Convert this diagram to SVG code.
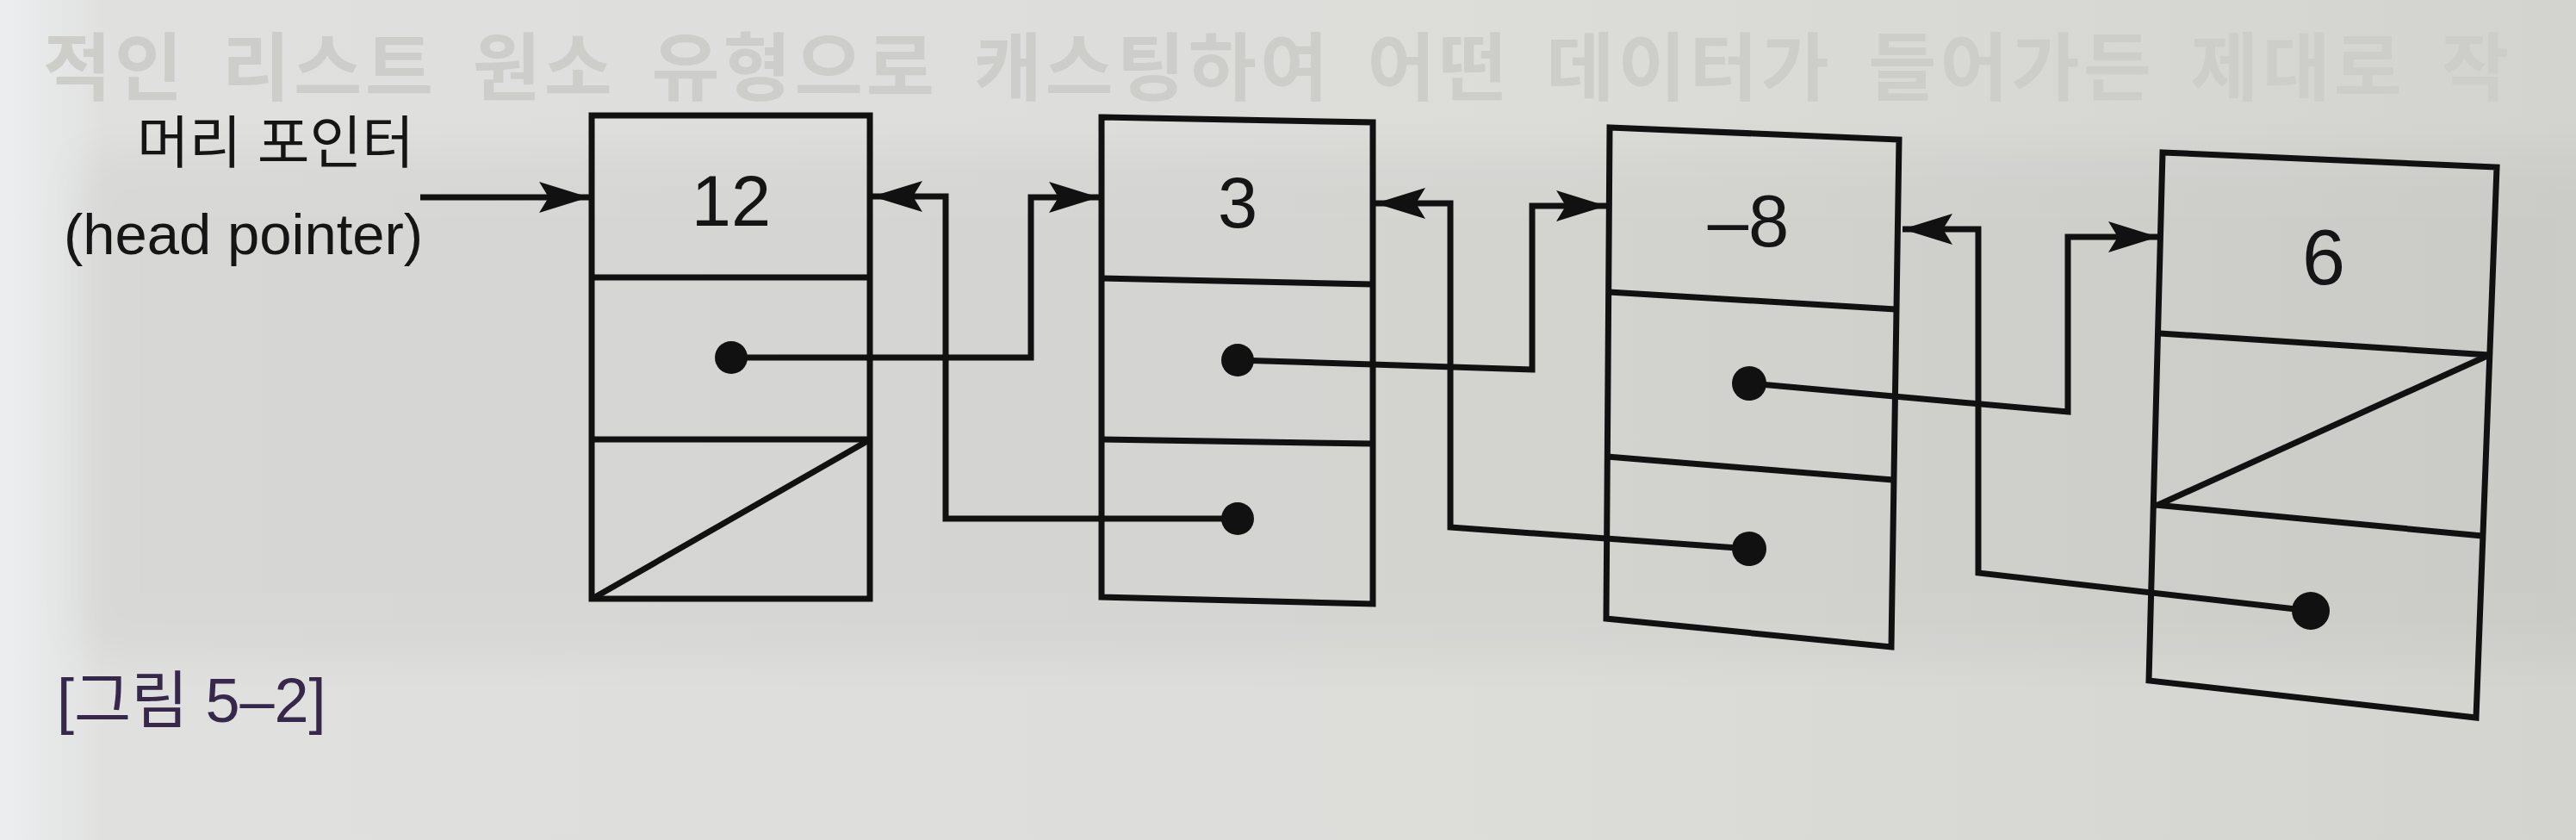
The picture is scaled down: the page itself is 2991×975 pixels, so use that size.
<svg xmlns="http://www.w3.org/2000/svg" width="2991" height="975" viewBox="0 0 2991 975">
  <defs>
    <linearGradient id="paper" x1="0" y1="0" x2="1" y2="0">
      <stop offset="0" stop-color="#eceef0"/>
      <stop offset="0.04" stop-color="#e0e1df"/>
      <stop offset="0.6" stop-color="#dcdcd9"/>
      <stop offset="1" stop-color="#d3d3d0"/>
    </linearGradient>
    <filter id="soft" x="-10%" y="-30%" width="120%" height="160%">
      <feGaussianBlur stdDeviation="30"/>
    </filter>
    <marker id="arr" viewBox="0 0 60 40" markerWidth="60" markerHeight="40" refX="58" refY="20" orient="auto" markerUnits="userSpaceOnUse">
      <path d="M58,20 L0,2 L11,20 L0,38 Z" fill="#111"/>
    </marker>
    <style>
      .box { fill: none; stroke: #111; stroke-width: 7; stroke-linejoin: miter; }
      .div { fill: none; stroke: #111; stroke-width: 7; }
      .conn { fill: none; stroke: #111; stroke-width: 7; stroke-linejoin: miter; marker-end: url(#arr); }
      .dot { fill: #111; }
      .val { font-family: "Liberation Sans", Arial, sans-serif; fill: #151515; text-anchor: middle; }
      .lbl { font-family: "Liberation Sans", "Noto Sans CJK KR", sans-serif; fill: #151515; }
      .faint { font-family: "Noto Sans CJK KR", sans-serif; font-weight: bold; fill: #cdcdca; }
    </style>
  </defs>

  <g id="background">
    <rect x="0" y="0" width="2991" height="975" fill="url(#paper)"/>
    <rect x="90" y="180" width="2950" height="580" fill="#000" opacity="0.035" filter="url(#soft)"/>
    <text class="faint" x="50" y="110" font-size="86" letter-spacing="4" word-spacing="18">적인 리스트 원소 유형으로 캐스팅하여 어떤 데이터가 들어가든 제대로 작</text>
  </g>

  <g id="labels">
    <text class="lbl" x="320" y="189" font-size="66" text-anchor="middle" font-family="'Noto Sans CJK KR', sans-serif">머리 포인터</text>
    <text class="lbl" x="74" y="295" font-size="67">(head pointer)</text>
    <text class="lbl" x="66" y="838" font-size="72" style="fill:#35284a">[그림 5–2]</text>
  </g>

  <g id="node1">
    <path class="box" d="M687,134 L1010,134 L1010,695 L687,695 Z"/>
    <path class="div" d="M687,322 L1010,322 M687,510 L1010,510"/>
    <path class="div" d="M691,693 L1007,512"/>
    <text class="val" x="849" y="262" font-size="83">12</text>
    <circle class="dot" cx="849" cy="415" r="19"/>
  </g>

  <g id="node2">
    <path class="box" d="M1279,136 L1594,142 L1594,701 L1279,693 Z"/>
    <path class="div" d="M1279,323 L1594,330 M1279,510 L1594,515"/>
    <text class="val" x="1437" y="264" font-size="83">3</text>
    <circle class="dot" cx="1437" cy="418" r="19"/>
    <circle class="dot" cx="1437" cy="602" r="19"/>
  </g>

  <g id="node3">
    <path class="box" d="M1869,148 L2205,162 L2196,751 L1865,718 Z"/>
    <path class="div" d="M1868,339 L2201,359 M1866,530 L2198,557"/>
    <text class="val" x="2030" y="286" font-size="85">–8</text>
    <circle class="dot" cx="2031" cy="445" r="20"/>
    <circle class="dot" cx="2031" cy="637" r="20"/>
  </g>

  <g id="node4">
    <path class="box" d="M2511,177 L2899,194 L2875,833 L2495,790 Z"/>
    <path class="div" d="M2508,387 L2890,412 M2502,586 L2882,622"/>
    <path class="div" d="M2888,413 L2506,586"/>
    <text class="val" x="2698" y="330" font-size="90">6</text>
    <circle class="dot" cx="2683" cy="709" r="22"/>
  </g>

  <g id="connectors">
    <path class="conn" d="M488,229 H684"/>
    <path class="conn" d="M849,415 H1197 V229 H1276"/>
    <path class="conn" d="M1437,602 H1098 V228 H1013"/>
    <path class="conn" d="M1437,418 L1779,429 V239 H1865"/>
    <path class="conn" d="M2031,637 L1684,612 V236 H1597"/>
    <path class="conn" d="M2032,445 L2401,478 V275 H2506"/>
    <path class="conn" d="M2683,709 L2297,665 V266 H2209"/>
  </g>
</svg>
